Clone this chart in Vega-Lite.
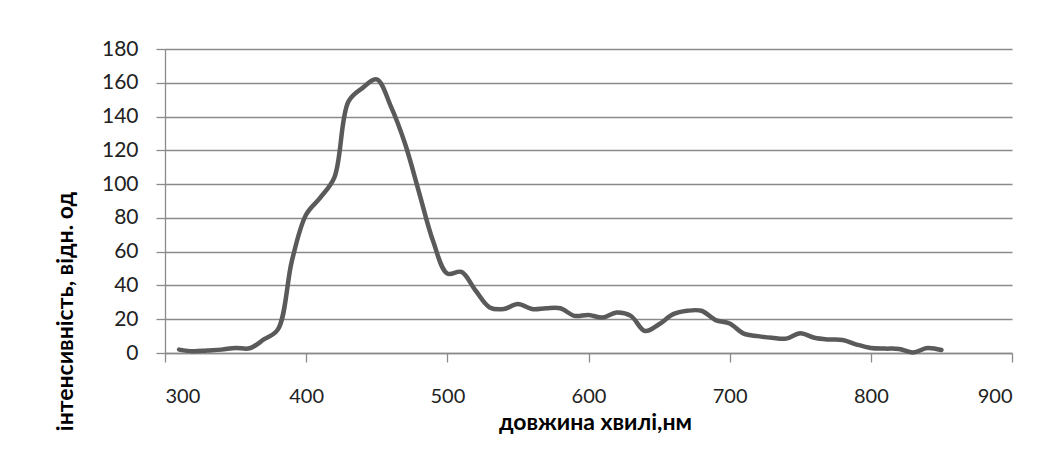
{
  "$schema": "https://vega.github.io/schema/vega-lite/v6.json",
  "width": 847,
  "height": 304,
  "autosize": "none",
  "padding": {"left": 165, "top": 49, "right": 47, "bottom": 111},
  "background": "white",
  "config": {
    "view": {"stroke": null},
    "font": "Lato"
  },
  "data": {
    "values": [
      {"wl": 310, "I": 2}, {"wl": 320, "I": 1}, {"wl": 330, "I": 1.5}, {"wl": 340, "I": 2},
      {"wl": 350, "I": 3}, {"wl": 360, "I": 2.8}, {"wl": 370, "I": 8}, {"wl": 380, "I": 14},
      {"wl": 390, "I": 55}, {"wl": 400, "I": 82}, {"wl": 410, "I": 92}, {"wl": 420, "I": 104},
      {"wl": 430, "I": 149}, {"wl": 440, "I": 157}, {"wl": 450, "I": 162}, {"wl": 460, "I": 146},
      {"wl": 470, "I": 124}, {"wl": 480, "I": 95}, {"wl": 490, "I": 66}, {"wl": 500, "I": 47},
      {"wl": 510, "I": 48}, {"wl": 520, "I": 37}, {"wl": 530, "I": 27}, {"wl": 540, "I": 26},
      {"wl": 550, "I": 29}, {"wl": 560, "I": 26}, {"wl": 570, "I": 26.5}, {"wl": 580, "I": 26.5},
      {"wl": 590, "I": 22}, {"wl": 600, "I": 22.5}, {"wl": 610, "I": 21}, {"wl": 620, "I": 24},
      {"wl": 630, "I": 22}, {"wl": 640, "I": 13}, {"wl": 650, "I": 17}, {"wl": 660, "I": 23},
      {"wl": 670, "I": 25}, {"wl": 680, "I": 25}, {"wl": 690, "I": 19.5}, {"wl": 700, "I": 17.5},
      {"wl": 710, "I": 11.5}, {"wl": 720, "I": 10}, {"wl": 730, "I": 9}, {"wl": 740, "I": 8.5},
      {"wl": 750, "I": 11.7}, {"wl": 760, "I": 9}, {"wl": 770, "I": 8}, {"wl": 780, "I": 7.7},
      {"wl": 790, "I": 5}, {"wl": 800, "I": 3}, {"wl": 810, "I": 2.6}, {"wl": 820, "I": 2.4},
      {"wl": 830, "I": 0.3}, {"wl": 840, "I": 3}, {"wl": 850, "I": 1.8}
    ]
  },
  "mark": {"type": "line", "interpolate": "catmull-rom", "color": "#5a5a5a", "strokeWidth": 4.5, "strokeCap": "round", "strokeJoin": "round"},
  "encoding": {
    "x": {
      "field": "wl", "type": "quantitative",
      "scale": {"domain": [300, 900], "nice": false, "zero": false},
      "axis": {
        "values": [300, 400, 500, 600, 700, 800, 900],
        "title": "довжина хвилі,нм",
        "titleFont": "Lato", "titleFontSize": 23, "titleFontWeight": "bold", "titleColor": "#000000",
        "titleX": 430, "titleY": 69, "titleBaseline": "middle", "titleAlign": "center", "titleAnchor": null,
        "labelFont": "Lato", "labelFontSize": 20, "labelColor": "#222222", "labelPadding": 24,
        "grid": false,
        "domainColor": "#8a8a8a", "domainWidth": 1.3,
        "tickColor": "#8a8a8a", "tickSize": 9, "tickWidth": 1.3
      }
    },
    "y": {
      "field": "I", "type": "quantitative",
      "scale": {"domain": [0, 180], "nice": false},
      "axis": {
        "values": [0, 20, 40, 60, 80, 100, 120, 140, 160, 180],
        "title": "інтенсивність, відн. од",
        "titleFont": "Lato", "titleFontSize": 23, "titleFontWeight": "bold", "titleColor": "#000000",
        "titleAngle": 270, "titleX": -100, "titleY": 262, "titleAlign": "center", "titleBaseline": "middle", "titleAnchor": null,
        "labelFont": "Lato", "labelFontSize": 21, "labelColor": "#222222", "labelPadding": 18,
        "grid": true, "gridColor": "#8a8a8a", "gridWidth": 1.3,
        "domainColor": "#8a8a8a", "domainWidth": 1.3,
        "tickColor": "#8a8a8a", "tickSize": 9, "tickWidth": 1.3
      }
    }
  }
}
